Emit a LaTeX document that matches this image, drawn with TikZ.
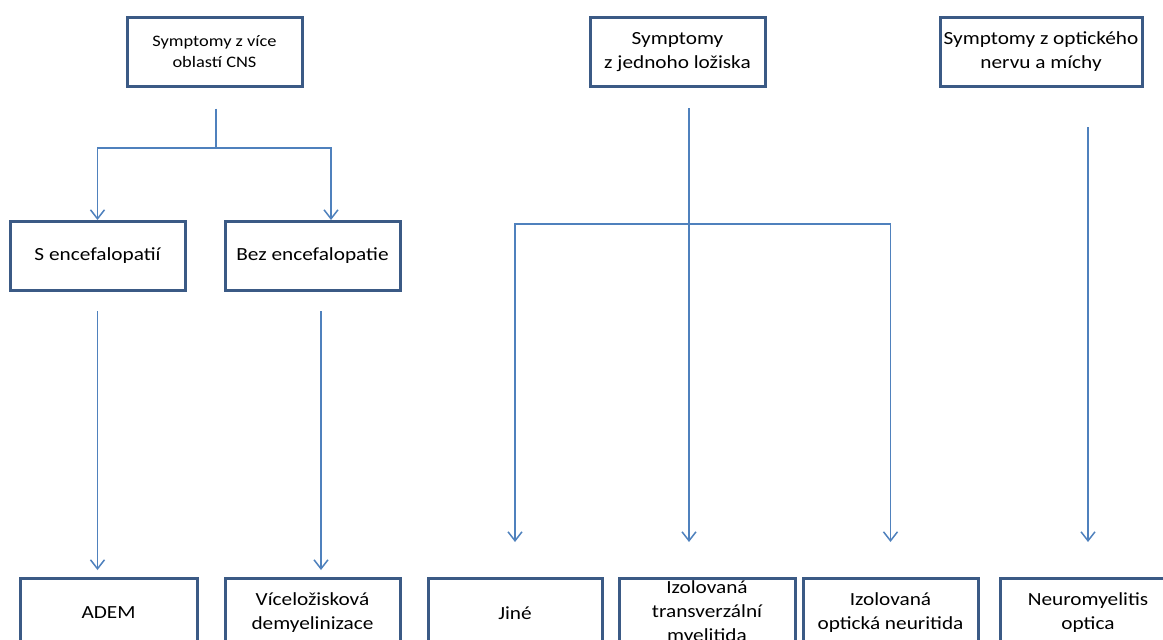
\documentclass[tikz,border=0pt]{standalone}
\usepackage{fontspec}
\setmainfont{Carlito}[FakeStretch=1.15]
\usetikzlibrary{positioning, arrows.meta}
\definecolor{boxline}{HTML}{3B5A85}
\definecolor{arrline}{HTML}{4F81BD}

\begin{document}
\begin{tikzpicture}[
    x=1pt, y=-1pt,
    % boxes of the scheme
    stage/.style={
        draw=boxline,
        line width=3pt,
        fill=white,
        minimum width=175pt,
        minimum height=69pt,
        inner xsep=2pt, inner ysep=0pt,
        align=center,
        font=\fontsize{18.5}{24}\selectfont
    },
    % plain connector and arrow
    branch/.style={draw=arrline, line width=1.5pt},
    flow/.style={branch, -{Straight Barb[length=9pt, width=14pt]}}
]
    \useasboundingbox (0,0) rectangle (1163,640);
    \clip (0,0) rectangle (1163,640);

    % --- top row ---
    \node[stage, font=\fontsize{16}{21}\selectfont] (vice) at (214.5,51.5) {Symptomy z více\\oblastí CNS};
    \node[stage] (jedno) at (677.5,52) {Symptomy\\z jednoho ložiska};
    \node[stage, minimum width=202pt] (opt) at (1041,52) {Symptomy z optického\\nervu a míchy};

    % --- middle row ---
    \node[stage] (senc) at (97.5,256) {S encefalopatií};
    \node[stage] (bezenc) at (312.5,256) {Bez encefalopatie};

    % --- bottom row (cut by the page edge) ---
    \node[stage, minimum width=177pt] (adem) at (108.5,613) {ADEM};
    \node[stage] (viceld) at (312.5,613) {Víceložisková\\demyelinizace};
    \node[stage, minimum width=174pt] (jine) at (515,613) {Jiné};
    \node[stage, minimum width=176pt] (myel) at (707,613) {Izolovaná\\transverzální\\myelitida};
    \node[stage] (neur) at (890.5,613) {Izolovaná\\optická neuritida};
    \node[stage] (nmo) at (1088,613) {Neuromyelitis\\optica};

    % --- connectors ---
    % more regions of CNS
    \coordinate (viceSplit) at (216,148);
    \draw[branch] ([xshift=1.5pt, yshift=-21pt]vice.south) -- (viceSplit);
    \draw[flow] (viceSplit) -| (senc.north);
    \draw[flow] (viceSplit) -| ([xshift=18.5pt]bezenc.north);
    \draw[flow, shorten <=19pt, shorten >=7pt] (senc.south) -- (senc.south |- adem.north);
    \draw[flow, shorten <=19pt, shorten >=7pt] ([xshift=8.5pt]bezenc.south) -- ([xshift=8.5pt]bezenc.south |- viceld.north);

    % single lesion
    \coordinate (jednoSplit) at (689,224);
    \draw[flow, shorten >=35pt] ([xshift=11.5pt, yshift=-20pt]jedno.south) -- ([xshift=11.5pt]jedno.south |- myel.north);
    \draw[flow, shorten >=35pt] (jednoSplit) -| (jine.north);
    \draw[flow, shorten >=35pt] (jednoSplit) -| (neur.north);

    % optic nerve and spinal cord
    \draw[flow, shorten <=39pt, shorten >=35pt] (opt.south -| nmo.north) -- (nmo.north);
\end{tikzpicture}
\end{document}
